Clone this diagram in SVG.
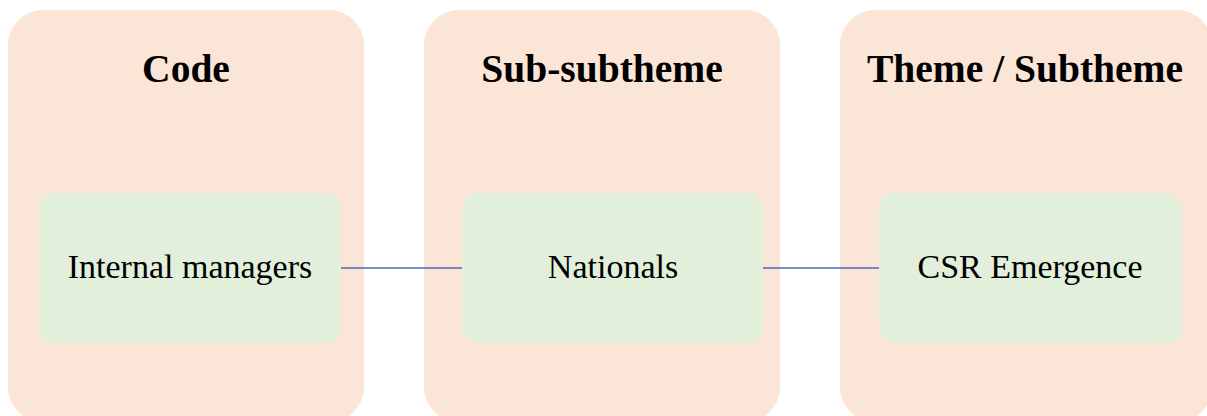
<svg xmlns="http://www.w3.org/2000/svg" width="1207" height="416" viewBox="0 0 1207 416">
<style>
.panel{fill:#fbe5d7}
.box{fill:#e2efda}
.title{font-family:"Liberation Serif",serif;font-weight:bold;font-size:39.5px;fill:#000;text-anchor:middle}
.label{font-family:"Liberation Serif",serif;font-size:34px;fill:#000;text-anchor:middle}
.conn{stroke:#4a6ab0;stroke-width:1.4;fill:none}
</style>
<rect width="1207" height="416" fill="#ffffff"/>
<g id="panel-code">
<rect class="panel" x="8" y="10" width="356" height="412" rx="35"/>
<text class="title" x="186" y="82">Code</text>
</g>
<g id="panel-subsubtheme">
<rect class="panel" x="424" y="10" width="356" height="412" rx="35"/>
<text class="title" x="602" y="82">Sub-subtheme</text>
</g>
<g id="panel-theme">
<rect class="panel" x="840" y="10" width="372" height="412" rx="35"/>
<text class="title" x="1025" y="82">Theme / Subtheme</text>
</g>
<g id="node-internal-managers">
<rect class="box" x="39" y="193" width="302" height="150" rx="15"/>
<text class="label" x="190" y="278">Internal managers</text>
</g>
<g id="node-nationals">
<rect class="box" x="462" y="193" width="301" height="150" rx="15"/>
<text class="label" x="613" y="278">Nationals</text>
</g>
<g id="node-csr-emergence">
<rect class="box" x="879" y="193" width="303" height="150" rx="15"/>
<text class="label" x="1030" y="278">CSR Emergence</text>
</g>
<g id="connectors">
<line class="conn" x1="341" y1="268" x2="462" y2="268"/>
<line class="conn" x1="763" y1="268" x2="879" y2="268"/>
</g>
</svg>
